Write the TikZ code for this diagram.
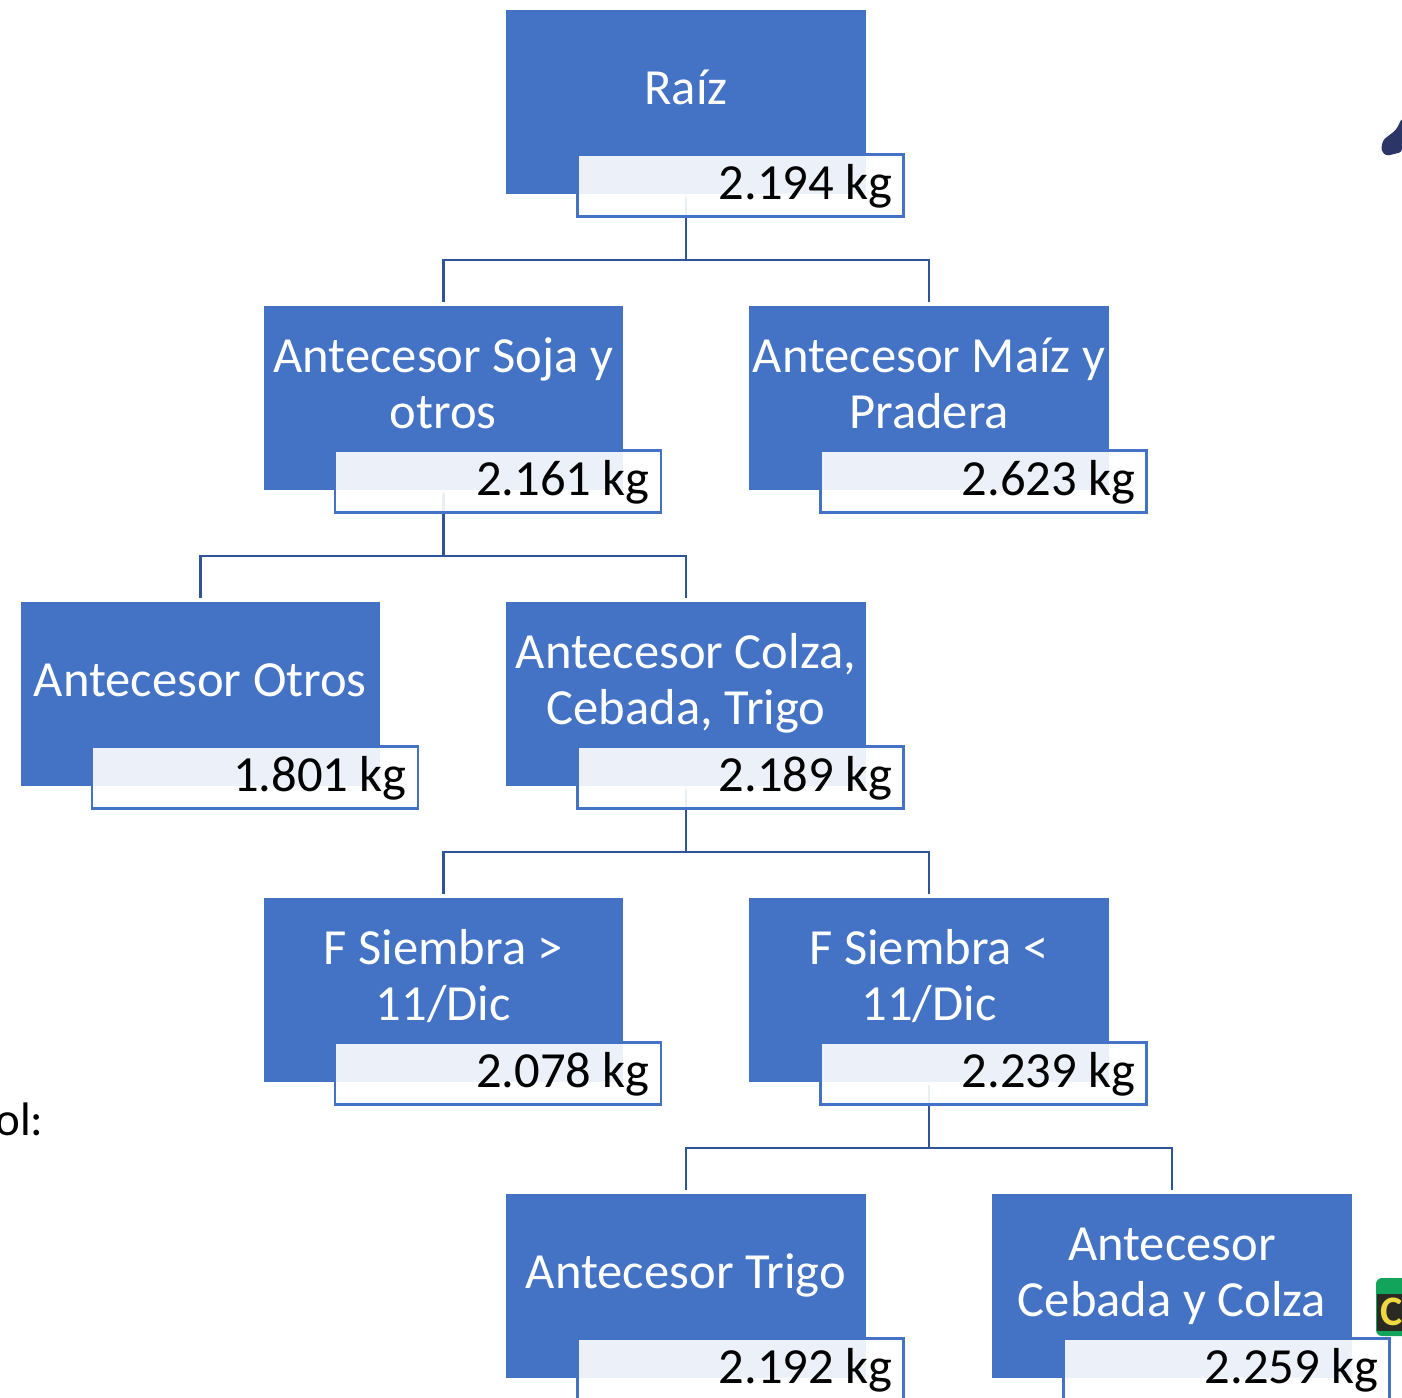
\documentclass[tikz,border=0pt]{standalone}
\usepackage{fontspec}
\setmainfont{Carlito}
\definecolor{boxblue}{HTML}{4472C4}
\definecolor{linkblue}{HTML}{2F5597}
\definecolor{birdnavy}{HTML}{2B3566}
\definecolor{tagGreen}{HTML}{12A45A}
\definecolor{tagDark}{HTML}{2A2A22}
\definecolor{tagYellow}{HTML}{F0D840}
\tikzset{
  mainbox/.style={fill=boxblue,draw=none,minimum width=179.6pt,minimum height=92.2pt,inner sep=0pt,outer sep=0pt,anchor=north},
  titletext/.style={text=white,align=center,font=\fontsize{25.3pt}{28pt}\selectfont,inner sep=0pt,anchor=center},
  valbox/.style={fill=white,fill opacity=0.9,draw=boxblue,line width=1.3pt,minimum width=163pt,minimum height=31pt,inner sep=0pt,outer sep=0pt,anchor=north east},
  valtext/.style={text=black,font=\fontsize{25.3pt}{28pt}\selectfont,inner sep=0pt,anchor=base east},
  conn/.style={draw=linkblue,line width=1.4pt}
}
\newcommand{\tree}[3]{\node[mainbox] (#1) at (#2,#3) {};}
\newcommand{\ttl}[2]{\node[titletext] (#1t) at ([yshift=-41.8pt]#1.north) {#2};}
\newcommand{\val}[2]{%
  \node[valbox] (#1v) at ([xshift=108.8pt,yshift=-72.4pt]#1.north) {};
  \node[valtext] (#1n) at ([xshift=103.4pt,yshift=-94.8pt]#1.north) {#2};}
\newcommand{\lnk}[2]{\draw[conn] ([yshift=-1.5pt]#1.south) -- ++(0,63) -| ([yshift=1.6pt]#2.north);}
\begin{document}
\begin{tikzpicture}[x=0.5pt,y=-0.5pt]
\useasboundingbox (0,0) rectangle (1402,1397);
\clip (0,0) rectangle (1402,1397);
% main boxes
\tree{r}{686}{9.6}
\tree{a}{443.3}{305.6}
\tree{b}{929}{305.6}
\tree{c}{200.3}{601.6}
\tree{d}{686}{601.6}
\tree{e}{443.3}{897.6}
\tree{f}{929}{897.6}
\tree{g}{686}{1193.6}
\tree{h}{1172}{1193.6}
% connectors
\lnk{r}{a}\lnk{r}{b}
\lnk{a}{c}\lnk{a}{d}
\lnk{d}{e}\lnk{d}{f}
\lnk{f}{g}\lnk{f}{h}
% titles
\ttl{r}{\strut Raíz}
\ttl{a}{\strut Antecesor Soja y\\\strut otros}
\ttl{b}{\strut Antecesor Maíz y\\\strut Pradera}
\ttl{c}{\strut Antecesor Otros}
\ttl{d}{\strut Antecesor Colza,\\\strut Cebada, Trigo}
\ttl{e}{\strut F Siembra >\\\strut 11/Dic}
\ttl{f}{\strut F Siembra <\\\strut 11/Dic}
\ttl{g}{\strut Antecesor Trigo}
\ttl{h}{\strut Antecesor\\\strut Cebada y Colza}
% values
\val{r}{2.194 kg}
\val{a}{2.161 kg}
\val{b}{2.623 kg}
\val{c}{1.801 kg}
\val{d}{2.189 kg}
\val{e}{2.078 kg}
\val{f}{2.239 kg}
\val{g}{2.192 kg}
\val{h}{2.259 kg}
% cut-off surroundings
\node[text=black,font=\fontsize{23.5pt}{26pt}\selectfont,inner sep=0pt,anchor=base west] (ol) at (-5,1135) {ol:};
\fill[fill=birdnavy,rounded corners=1.5pt] (1402,118) -- (1396,130) -- (1383,140) -- (1381,150) -- (1386,156) -- (1402,152) -- cycle;
\fill[fill=tagGreen,rounded corners=3pt] (1376,1278) rectangle (1420,1336);
\fill[fill=tagDark] (1377,1294) rectangle (1420,1331);
\node[text=tagYellow,font=\bfseries\fontsize{21pt}{21pt}\selectfont,inner sep=0pt,anchor=west] (cc) at (1380,1312) {C};
\end{tikzpicture}
\end{document}
